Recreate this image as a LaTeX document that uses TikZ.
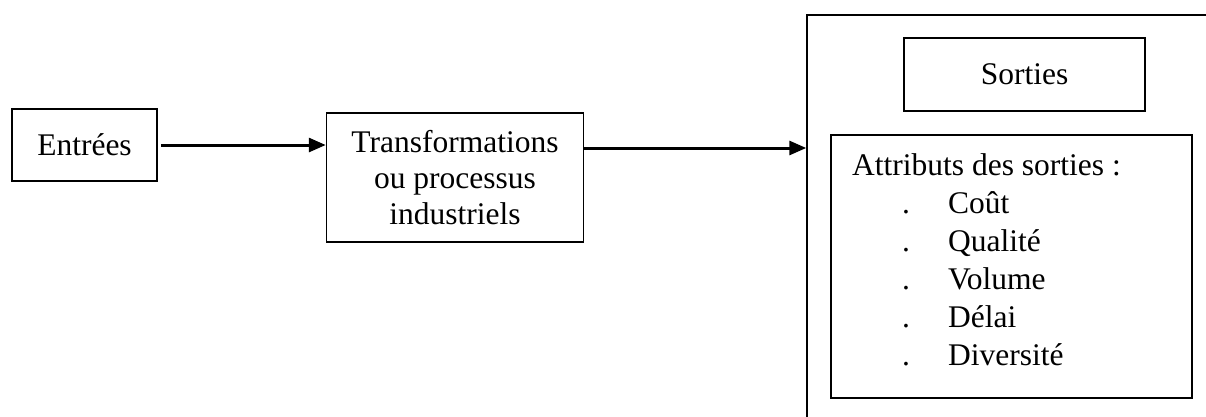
\documentclass[tikz,border=0pt]{standalone}
\usepackage{fontspec}
\setmainfont{Liberation Serif}
\usetikzlibrary{arrows.meta,calc}
\begin{document}
\begin{tikzpicture}[x=1pt,y=-1pt,
  box/.style={draw,line width=1.5pt,inner sep=0pt,font=\fontsize{31.5}{36}\selectfont},
  flow/.style={line width=3pt,-{Triangle[length=17pt,width=14pt]}},
  txt/.style={font=\fontsize{31.5}{36}\selectfont,inner sep=0pt,anchor=base west}]
\useasboundingbox (0,0) rectangle (1206,416);
\clip (0,0) rectangle (1206,416);
\fill[white] (0,0) rectangle (1206,416);

% process chain
\node[box,minimum width=145pt,minimum height=72pt] (entree) at (84.5,145) {Entrées};
\node[box,minimum width=257pt,minimum height=129pt,align=center] (trans) at (455,177.5)
  {Transformations\\ou processus\\industriels};

% output frame (runs off the page at right and bottom)
\node[box,minimum width=453pt,minimum height=445pt] (outer) at (1033.5,237.5) {};
\node[box,minimum width=241pt,minimum height=73pt] (sorties) at (1024.5,74.5) {Sorties};
\node[box,minimum width=361pt,minimum height=263pt] (attr) at (1011.5,266.5) {};

% attribute list
\node[txt] (attrtitle) at (852,175) {Attributs des sorties :};
\foreach \i/\item/\yy in {1/Coût/213,2/Qualité/251,3/Volume/289,4/Délai/327,5/Diversité/365}{
  \node[txt] (dot\i) at (902,\yy) {.};
  \node[txt] (item\i) at (948,\yy) {\item};
}

% connectors
\draw[flow] ([xshift=3pt]entree.east) -- (entree.east -| trans.west);
\draw[flow] ([yshift=29.5pt]trans.east) -- ([yshift=29.5pt]trans.east -| outer.west);
\end{tikzpicture}
\end{document}
